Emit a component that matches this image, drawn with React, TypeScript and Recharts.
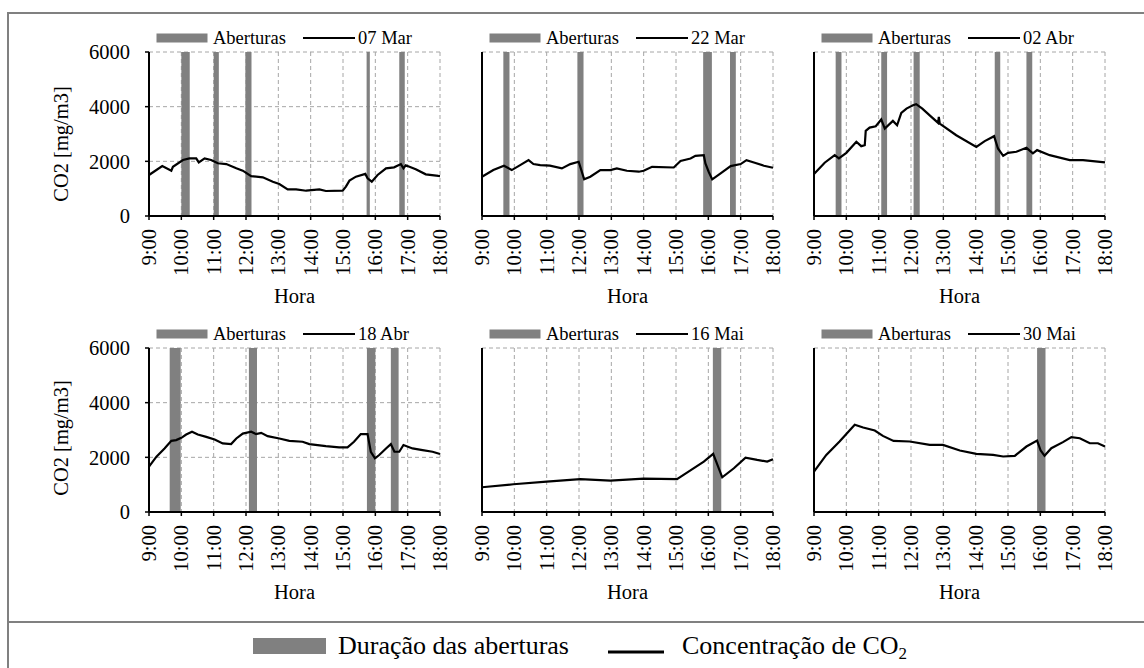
import React from 'react'
import { ComposedChart, Line, XAxis, YAxis, CartesianGrid, ReferenceArea, Label } from 'recharts'

const FONT = '"Liberation Serif", "DejaVu Serif", Tinos, "Times New Roman", serif'

const hourTicks = [9, 10, 11, 12, 13, 14, 15, 16, 17, 18]
const co2Ticks = [0, 2000, 4000, 6000]

// [hora, CO2 mg/m3]
const mar07 = [
  [9.0, 1500], [9.41, 1830], [9.69, 1660], [9.74, 1800], [10.05, 2050], [10.25, 2110],
  [10.46, 2110], [10.54, 1960], [10.72, 2110], [10.92, 2050], [11.13, 1930], [11.39, 1900],
  [11.7, 1745], [11.9, 1660], [12.16, 1460], [12.52, 1415], [12.83, 1255], [13.03, 1170],
  [13.29, 975], [13.55, 975], [13.86, 925], [14.27, 975], [14.47, 915], [14.99, 925],
  [15.09, 1075], [15.2, 1295], [15.4, 1440], [15.69, 1540], [15.76, 1380], [15.89, 1255],
  [16.07, 1500], [16.33, 1745], [16.58, 1780], [16.79, 1900], [16.87, 1745], [16.94, 1855],
  [17.25, 1710], [17.56, 1525], [17.95, 1465], [18.0, 1460],
]
const mar22 = [
  [9.0, 1435], [9.35, 1680], [9.68, 1840], [9.92, 1680], [10.18, 1860], [10.44, 2045],
  [10.59, 1900], [10.8, 1860], [11.1, 1840], [11.47, 1740], [11.73, 1900], [11.99, 1985],
  [12.04, 1800], [12.16, 1340], [12.35, 1435], [12.66, 1680], [12.97, 1680], [13.17, 1740],
  [13.48, 1655], [13.85, 1620], [14.0, 1655], [14.26, 1800], [14.93, 1775], [15.14, 2010],
  [15.45, 2105], [15.6, 2200], [15.86, 2225], [15.91, 1920], [16.01, 1620], [16.12, 1340],
  [16.38, 1560], [16.69, 1825], [17.0, 1900], [17.18, 2045], [17.41, 1960], [17.72, 1840],
  [18.0, 1765],
]
const abr02 = [
  [9.0, 1535], [9.33, 1950], [9.64, 2225], [9.77, 2105], [10.0, 2310], [10.31, 2715],
  [10.46, 2555], [10.57, 2590], [10.6, 3115], [10.72, 3235], [10.91, 3285], [11.08, 3530],
  [11.19, 3200], [11.44, 3480], [11.57, 3320], [11.7, 3770], [11.86, 3930], [12.06, 4050],
  [12.16, 4090], [12.35, 3930], [12.63, 3625], [12.84, 3405], [12.86, 3625], [12.89, 3380],
  [13.4, 2955], [14.02, 2530], [14.28, 2740], [14.57, 2920], [14.69, 2470], [14.85, 2200],
  [15.0, 2310], [15.26, 2350], [15.57, 2495], [15.77, 2290], [15.9, 2410], [16.29, 2225],
  [16.91, 2045], [17.32, 2045], [18.0, 1960],
]
const abr18 = [
  [9.0, 1660], [9.23, 2025], [9.48, 2325], [9.69, 2605], [9.84, 2630], [10.0, 2715],
  [10.15, 2835], [10.33, 2935], [10.51, 2835], [10.77, 2750], [11.03, 2655], [11.28, 2510],
  [11.54, 2485], [11.7, 2690], [11.9, 2870], [12.16, 2935], [12.31, 2850], [12.47, 2895],
  [12.67, 2775], [13.03, 2690], [13.34, 2605], [13.75, 2570], [13.96, 2485], [14.47, 2410],
  [14.88, 2365], [15.14, 2365], [15.34, 2570], [15.55, 2850], [15.76, 2850], [15.86, 2205],
  [15.99, 1965], [16.12, 2085], [16.33, 2325], [16.48, 2485], [16.59, 2205], [16.74, 2205],
  [16.87, 2450], [17.15, 2325], [17.46, 2265], [17.77, 2205], [18.0, 2120],
]
const mai16 = [
  [9.0, 905], [9.97, 1015], [11.0, 1110], [12.04, 1200], [12.97, 1150], [14.0, 1220],
  [15.03, 1200], [15.34, 1440], [15.86, 1845], [16.15, 2125], [16.43, 1270], [16.79, 1600],
  [17.15, 1990], [17.51, 1905], [17.82, 1845], [18.0, 1930],
]
const mai30 = [
  [9.0, 1480], [9.38, 2090], [9.79, 2580], [10.26, 3190], [10.52, 3090], [10.88, 2980],
  [11.13, 2785], [11.46, 2600], [11.96, 2580], [12.58, 2455], [12.99, 2455], [13.51, 2250],
  [14.02, 2125], [14.54, 2090], [14.85, 2030], [15.21, 2055], [15.57, 2395], [15.9, 2615],
  [16.01, 2250], [16.13, 2055], [16.34, 2335], [16.7, 2555], [16.96, 2740], [17.22, 2700],
  [17.53, 2515], [17.78, 2515], [18.0, 2395],
]

// aberturas [início, fim] em horas
const mar07Open = [[10.0, 10.26], [11.0, 11.16], [11.98, 12.17], [15.73, 15.83], [16.74, 16.91]]
const mar22Open = [[9.66, 9.85], [11.95, 12.14], [15.84, 16.11], [16.67, 16.85]]
const abr02Open = [[9.67, 9.85], [11.08, 11.26], [12.08, 12.27], [14.59, 14.76], [15.57, 15.75]]
const abr18Open = [[9.64, 9.98], [12.09, 12.34], [15.74, 16.0], [16.48, 16.72]]
const mai16Open = [[16.14, 16.4]]
const mai30Open = [[15.9, 16.16]]

const panels = [
  { date: '07 Mar', line: mar07, open: mar07Open },
  { date: '22 Mar', line: mar22, open: mar22Open },
  { date: '02 Abr', line: abr02, open: abr02Open },
  { date: '18 Abr', line: abr18, open: abr18Open },
  { date: '16 Mai', line: mai16, open: mai16Open },
  { date: '30 Mai', line: mai30, open: mai30Open },
]

const colLeft = [149, 482, 814]
const rowTop = [52, 348]
const PLOT_W = 291
const PLOT_H = 164
const AXIS_W = 100
const XAXIS_H = 90
const PAD = 14

function HourTick(props: any) {
  const { x, y, payload } = props
  return (
    <text
      x={x}
      y={y}
      transform={`rotate(-90 ${x} ${y})`}
      textAnchor="end"
      dominantBaseline="central"
      fontSize={20.5}
      fill="#000"
      style={{ fontFamily: FONT }}
    >
      {`${payload.value}:00`}
    </text>
  )
}

function yLabel(shift: number) {
  return (props: any) => {
    const { x, y, width, height } = props.viewBox
    const cx = x + width - 88
    const cy = y + height / 2 + shift
    return (
      <text
        x={cx}
        y={cy}
        transform={`rotate(-90 ${cx} ${cy})`}
        textAnchor="middle"
        dominantBaseline="central"
        fontSize={20.5}
        fill="#000"
        style={{ fontFamily: FONT }}
      >
        CO2 [mg/m3]
      </text>
    )
  }
}

function Panel({ line, open, left, top, showY, shift }: any) {
  const data = line.map(([t, v]: number[]) => ({ t, v }))
  return (
    <div style={{ position: 'absolute', left: left - AXIS_W, top: top - PAD }}>
      <ComposedChart
        width={AXIS_W + PLOT_W + PAD}
        height={PAD + PLOT_H + XAXIS_H + 2}
        data={data}
        margin={{ top: PAD, right: PAD, bottom: 2, left: 0 }}
        style={{ fontFamily: FONT }}
      >
        <CartesianGrid stroke="#a6a6a6" strokeDasharray="4 3" strokeWidth={1} />
        <XAxis
          dataKey="t"
          type="number"
          domain={[9, 18]}
          ticks={hourTicks}
          interval={0}
          height={XAXIS_H}
          tickSize={4}
          tickMargin={9}
          axisLine={{ stroke: '#000', strokeWidth: 2 }}
          tickLine={{ stroke: '#000', strokeWidth: 1.5 }}
          tick={<HourTick />}
        >
          <Label value="Hora" position="insideBottom" offset={3} style={{ fontSize: 20.5, fill: '#000', fontFamily: FONT }} />
        </XAxis>
        <XAxis
          xAxisId="top"
          orientation="top"
          type="number"
          domain={[9, 18]}
          height={0}
          tick={false}
          tickLine={false}
          axisLine={{ stroke: '#000', strokeWidth: 2 }}
        />
        <YAxis
          type="number"
          domain={[0, 6000]}
          ticks={co2Ticks}
          interval={0}
          width={AXIS_W}
          tickSize={4}
          tickMargin={15}
          axisLine={{ stroke: '#000', strokeWidth: 2 }}
          tickLine={{ stroke: '#000', strokeWidth: 1.5 }}
          tick={showY ? { fontSize: 20.5, fill: '#000', style: { fontFamily: FONT } } : false}
        >
          {showY && <Label content={yLabel(shift)} />}
        </YAxis>
        <YAxis
          yAxisId="right"
          orientation="right"
          type="number"
          domain={[0, 6000]}
          width={0}
          tick={false}
          tickLine={false}
          axisLine={{ stroke: '#000', strokeWidth: 2 }}
        />
        {open.map(([a, b]: number[], i: number) => (
          <ReferenceArea key={i} x1={a} x2={b} y1={0} y2={6000} fill="#808080" fillOpacity={1} stroke="none" />
        ))}
        <Line dataKey="v" type="linear" stroke="#000" strokeWidth={2.2} dot={false} isAnimationActive={false} />
      </ComposedChart>
    </div>
  )
}

function PanelLegend({ date, left, top }: { date: string; left: number; top: number }) {
  const cy = top - 14
  return (
    <g>
      <rect x={left + 7.5} y={cy - 4.5} width={51} height={9} fill="#808080" />
      <text x={left + 64} y={cy + 5.5} fontSize={18.5}>Aberturas</text>
      <rect x={left + 154} y={cy - 1} width={52} height={2} fill="#000" />
      <text x={left + 209} y={cy + 5.5} fontSize={18.5}>{date}</text>
    </g>
  )
}

export default function App() {
  return (
    <div style={{ position: 'absolute', left: 0, top: 0, width: 1144, height: 668, overflow: 'hidden', background: '#fff', fontFamily: FONT }}>
      <div style={{ position: 'absolute', left: 7, top: 12, width: 1200, height: 700, border: '2px solid #808080' }} />
      <div style={{ position: 'absolute', left: 7, top: 621, width: 1200, height: 2, background: '#808080' }} />
      {panels.map((p, i) => (
        <Panel
          key={p.date}
          line={p.line}
          open={p.open}
          left={colLeft[i % 3]}
          top={rowTop[Math.floor(i / 3)]}
          showY={i % 3 === 0}
          shift={i < 3 ? 10 : 8}
        />
      ))}
      <svg
        width={1144}
        height={668}
        style={{ position: 'absolute', left: 0, top: 0, pointerEvents: 'none', fontFamily: FONT }}
      >
        {panels.map((p, i) => (
          <PanelLegend key={p.date} date={p.date} left={colLeft[i % 3]} top={rowTop[Math.floor(i / 3)]} />
        ))}
        <rect x={253} y={638} width={73} height={16} fill="#808080" />
        <text x={338} y={654} fontSize={26}>Duração das aberturas</text>
        <rect x={608} y={650.5} width={56} height={3} fill="#000" />
        <text x={682} y={654} fontSize={26}>
          Concentração de CO
          <tspan fontSize={17} dy={5}>2</tspan>
        </text>
      </svg>
    </div>
  )
}
